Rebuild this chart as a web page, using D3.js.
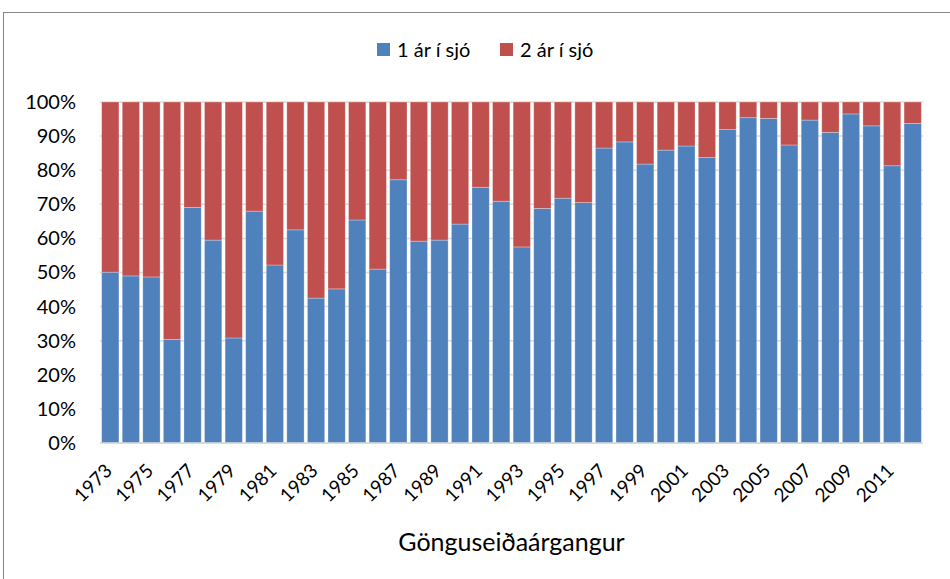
<!DOCTYPE html>
<html><head><meta charset="utf-8">
<script src="https://cdn.jsdelivr.net/npm/d3@7"></script>
<style>
html,body{margin:0;padding:0;background:#fff;}
svg{display:block;font-family:Lato,"Open Sans",sans-serif;}
</style></head>
<body>
<svg id="c" width="950" height="579"></svg>
<script>
const years = d3.range(1973, 2013).map(String);
const oneYear = [50.1,49.0,48.7,30.4,69.1,59.5,30.8,68.0,52.2,62.5,42.5,45.2,65.4,
  51.0,77.2,59.2,59.5,64.2,75.0,70.9,57.5,68.8,71.8,70.5,86.5,88.3,
  81.8,85.9,87.1,83.7,91.9,95.4,95.2,87.4,94.7,91.1,96.5,93.0,81.3,93.7];
const twoYear = oneYear.map(v => +(100 - v).toFixed(1));
const seriesNames = ["1 ár í sjó", "2 ár í sjó"];
const colors = ["#4f81bd", "#c0504d"];
const yTicks = [0,10,20,30,40,50,60,70,80,90,100];
const xTitle = "Gönguseiðaárgangur";

const svg = d3.select("#c");
// outer frame
svg.append("rect").attr("x",3.5).attr("y",12.5).attr("width",1000).attr("height",1000)
  .attr("fill","none").attr("stroke","#868686").attr("stroke-width",1);

const L=100, R=923, T=102, B=443;
const x = d3.scaleBand().domain(years).range([L,R]).paddingInner(0.16).paddingOuter(0.08);
const y = d3.scaleLinear().domain([0,100]).range([B,T]);

// gridlines
svg.append("g").selectAll("line").data(yTicks).join("line")
  .attr("x1",L).attr("x2",R).attr("y1",d=>y(d)).attr("y2",d=>y(d))
  .attr("stroke","#d9d9d9").attr("stroke-width",1.5);

const rows = years.map((yr,i)=>({year:yr, a:oneYear[i], b:twoYear[i]}));
const stack = d3.stack().keys(["a","b"]).offset(d3.stackOffsetExpand)(rows);
stack.forEach((s,si)=>{
  svg.append("g").selectAll("rect").data(s).join("rect")
    .attr("x",d=>x(d.data.year)).attr("width",x.bandwidth())
    .attr("y",d=>y(d[1]*100)).attr("height",d=>y(d[0]*100)-y(d[1]*100))
    .attr("fill",colors[si]).attr("stroke","rgba(255,255,255,0.35)").attr("stroke-width",0.8);
});

// x axis line
svg.append("line").attr("x1",L).attr("x2",R).attr("y1",B).attr("y2",B)
  .attr("stroke","#d9d9d9").attr("stroke-width",1.5);

// y labels
const yAxis = d3.axisLeft(y).tickValues(yTicks).tickFormat(d=>d+"%").tickSize(0).tickPadding(0);
const ya = svg.append("g").attr("transform",`translate(76,0)`).call(yAxis);
ya.select(".domain").remove();
ya.selectAll("text").attr("font-size",20).attr("fill","#000").attr("font-family","Lato,sans-serif");

// x labels (every other year)
const xAxis = d3.axisBottom(x).tickValues(years.filter((d,i)=>i%2===0)).tickSize(0);
const xa = svg.append("g").attr("transform",`translate(0,${B})`).call(xAxis);
xa.select(".domain").remove();
xa.selectAll("text").attr("font-size",19).attr("fill","#000").attr("font-family","Lato,sans-serif")
  .attr("text-anchor","end").attr("dy",0).attr("y",0)
  .attr("transform","translate(3,29) rotate(-45)");

// axis title
svg.append("text").attr("x",(L+R)/2).attr("y",551).attr("text-anchor","middle")
  .attr("font-size",25).attr("fill","#000").text(xTitle);

// legend
const leg = svg.append("g");
const legX = [377, 500];
seriesNames.forEach((n,i)=>{
  leg.append("rect").attr("x",legX[i]).attr("y",43).attr("width",13).attr("height",13).attr("fill",colors[i]);
  leg.append("text").attr("x",legX[i]+20).attr("y",57).attr("font-size",20).attr("fill","#000").text(n);
});
</script>
</body></html>
